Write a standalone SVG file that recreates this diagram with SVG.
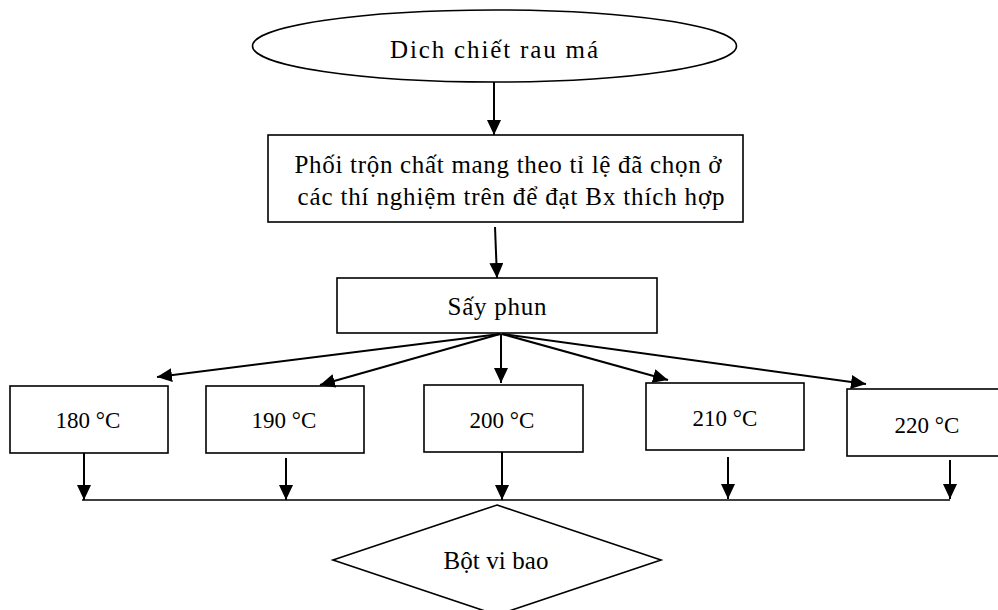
<svg xmlns="http://www.w3.org/2000/svg" width="998" height="610" viewBox="0 0 998 610">
<style>
.n{fill:#fff;stroke:#000;stroke-width:1.6}
.t{font-family:"Liberation Serif","Times New Roman",serif;font-size:25px;fill:#000;text-anchor:middle}
.s{font-size:23px}
.c{stroke:#000;stroke-width:2;fill:none}
.c2{stroke:#000;stroke-width:1.6;fill:none}
</style>
<defs>
<marker id="ah" viewBox="0 0 15 14" refX="15" refY="7" markerWidth="15" markerHeight="14" markerUnits="userSpaceOnUse" orient="auto">
<path d="M0,0 L15,7 L0,14 z" fill="#000"/>
</marker>
</defs>
<rect width="998" height="610" fill="#fff"/>
<g id="start">
<ellipse class="n" cx="494.5" cy="46" rx="242" ry="36"/>
<text class="t" x="494" y="58" textLength="208" lengthAdjust="spacing">Dich chiết rau má</text>
</g>
<g id="mix">
<rect class="n" x="268" y="135" width="475" height="87"/>
<text class="t" x="508" y="173" textLength="427" lengthAdjust="spacing">Phối trộn chất mang theo tỉ lệ đã chọn ở</text>
<text class="t" x="511" y="205" textLength="427" lengthAdjust="spacing">các thí nghiệm trên để đạt Bx thích hợp</text>
</g>
<g id="spray">
<rect class="n" x="337" y="278" width="320" height="55"/>
<text class="t" x="497" y="315" textLength="99" lengthAdjust="spacing">Sấy phun</text>
</g>
<g id="t180">
<rect class="n" x="10" y="386" width="158" height="67"/>
<text class="t s" x="88" y="428">180 °C</text>
</g>
<g id="t190">
<rect class="n" x="206" y="386" width="158" height="67"/>
<text class="t s" x="284" y="428">190 °C</text>
</g>
<g id="t200">
<rect class="n" x="424" y="385" width="159" height="67"/>
<text class="t s" x="502" y="428">200 °C</text>
</g>
<g id="t210">
<rect class="n" x="646" y="383" width="158" height="67"/>
<text class="t s" x="725" y="426">210 °C</text>
</g>
<g id="t220">
<rect class="n" x="847" y="389" width="160" height="67"/>
<text class="t s" x="927" y="433">220 °C</text>
</g>
<g id="product">
<polygon class="n" points="497,505 661,560 497,615 333,560"/>
<text class="t" x="496" y="569" textLength="105" lengthAdjust="spacing">Bột vi bao</text>
</g>
<g id="connectors">
<line class="c" x1="494" y1="82" x2="494" y2="135" marker-end="url(#ah)"/>
<line class="c" x1="495" y1="227" x2="497" y2="278" marker-end="url(#ah)"/>
<line class="c" x1="500" y1="334" x2="157" y2="377" marker-end="url(#ah)"/>
<line class="c" x1="500" y1="334" x2="320" y2="385" marker-end="url(#ah)"/>
<line class="c" x1="501" y1="334" x2="501" y2="383" marker-end="url(#ah)"/>
<line class="c" x1="502" y1="334" x2="668" y2="380" marker-end="url(#ah)"/>
<line class="c" x1="502" y1="334" x2="866" y2="384" marker-end="url(#ah)"/>
<line class="c" x1="84" y1="453" x2="84" y2="500" marker-end="url(#ah)"/>
<line class="c" x1="286" y1="458" x2="286" y2="500" marker-end="url(#ah)"/>
<line class="c" x1="502" y1="452" x2="502" y2="500" marker-end="url(#ah)"/>
<line class="c" x1="728" y1="457" x2="728" y2="499" marker-end="url(#ah)"/>
<line class="c" x1="950" y1="460" x2="950" y2="499" marker-end="url(#ah)"/>
<line class="c2" x1="82" y1="500" x2="950" y2="500"/>
</g>
</svg>
